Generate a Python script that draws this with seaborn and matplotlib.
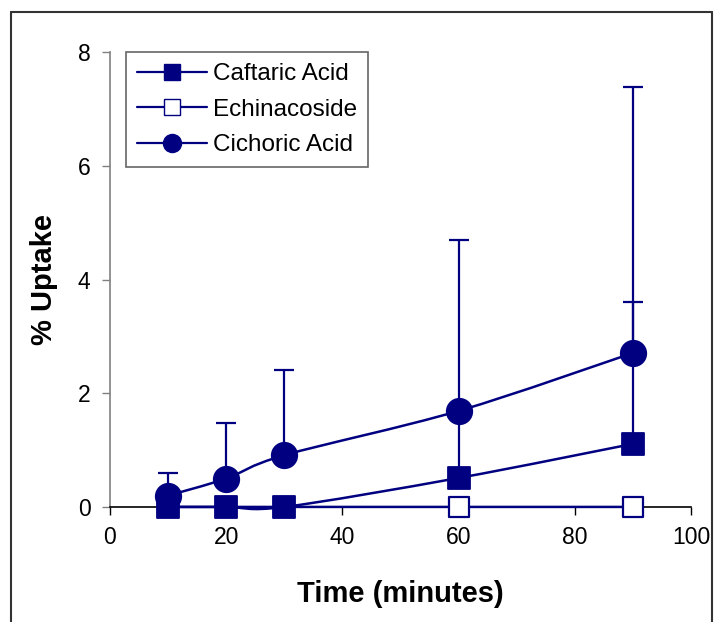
import numpy as np
import pandas as pd
import seaborn as sns
import matplotlib.pyplot as plt
from matplotlib.path import Path
from matplotlib.patches import PathPatch
from matplotlib.lines import Line2D

# Data
time_min = [10, 20, 30, 60, 90]
caftaric = [0.0, 0.0, 0.0, 0.51, 1.11]
caftaric_err = [0.0, 0.0, 0.0, 1.15, 2.5]
echinacoside = [0.0, 0.0, 0.0, 0.0, 0.0]
echinacoside_err = [0.0, 0.0, 0.0, 0.0, 0.0]
cichoric = [0.2, 0.5, 0.91, 1.69, 2.71]
cichoric_err = [0.4, 0.98, 1.5, 3.0, 4.67]

series_names = ["Caftaric Acid", "Echinacoside", "Cichoric Acid"]
navy = "#000080"

df = pd.DataFrame({
    "time": time_min * 3,
    "uptake": caftaric + echinacoside + cichoric,
    "err": caftaric_err + echinacoside_err + cichoric_err,
    "series": sum([[n] * len(time_min) for n in series_names], []),
})

sns.set_style("white")
plt.rcParams["font.family"] = ["Liberation Sans", "DejaVu Sans"]
plt.rcParams["text.color"] = "black"
plt.rcParams["axes.labelcolor"] = "black"

fig = plt.figure(figsize=(7.14, 6.22), dpi=100)
ax = fig.add_axes([0.154, 0.185, 0.814, 0.731])


def smooth_path(xs, ys):
    # Excel-style smoothed line: cubic bezier through the points
    pts = np.column_stack([xs, ys]).astype(float)
    verts = [pts[0]]
    codes = [Path.MOVETO]
    n = len(pts)
    for i in range(n - 1):
        p_prev = pts[i - 1] if i > 0 else pts[i]
        p_next = pts[i + 2] if i + 2 < n else pts[i + 1]
        c1 = pts[i] + (pts[i + 1] - p_prev) / 6
        c2 = pts[i + 1] - (p_next - pts[i]) / 6
        verts += [c1, c2, pts[i + 1]]
        codes += [Path.CURVE4] * 3
    return Path(verts, codes)


# error bars (upper only)
for name in series_names:
    d = df[df.series == name]
    if d.err.sum() > 0:
        eb = ax.errorbar(d.time, d.uptake, yerr=[np.zeros(len(d)), d.err],
                         fmt="none", ecolor=navy, elinewidth=1.6, capsize=7,
                         capthick=1.6, zorder=2)
        for art in eb.lines[1] + eb.lines[2]:
            art.set_clip_on(False)

# smoothed lines
for name in series_names:
    d = df[df.series == name]
    ax.add_patch(PathPatch(smooth_path(d.time, d.uptake), fill=False,
                           edgecolor=navy, lw=1.8, zorder=3, clip_on=False))

# markers
sns.scatterplot(data=df[df.series == "Echinacoside"], x="time", y="uptake",
                marker="s", s=200, facecolor="white", edgecolor=navy,
                linewidth=1.6, ax=ax, zorder=4, legend=False, clip_on=False)
sns.scatterplot(data=df[df.series == "Caftaric Acid"], x="time", y="uptake",
                marker="s", s=260, color=navy, edgecolor=navy,
                ax=ax, zorder=5, legend=False, clip_on=False)
sns.scatterplot(data=df[df.series == "Cichoric Acid"], x="time", y="uptake",
                marker="o", s=330, color=navy, edgecolor=navy,
                ax=ax, zorder=6, legend=False, clip_on=False)

ax.set_xlim(0, 100)
ax.set_ylim(0, 8)
ax.set_xticks(range(0, 101, 20))
ax.set_yticks(range(0, 9, 2))
ax.tick_params(axis="both", labelsize=16.5, direction="out", length=6,
               width=1, colors="black", left=True, bottom=True, pad=8)
ax.tick_params(axis="y", color="#808080")
for s in ["top", "right"]:
    ax.spines[s].set_visible(False)
ax.spines["left"].set_color("#808080")
ax.spines["bottom"].set_color("black")
ax.spines["left"].set_linewidth(1.2)
ax.spines["bottom"].set_linewidth(1.2)
ax.set_xlabel("Time (minutes)", fontsize=21, fontweight="bold", labelpad=22)
ax.set_ylabel("% Uptake", fontsize=21, fontweight="bold", labelpad=14)

handles = [
    Line2D([], [], color=navy, lw=1.6, marker="s", ms=12, mfc=navy, mec=navy),
    Line2D([], [], color=navy, lw=1.6, marker="s", ms=11, mfc="white", mec=navy),
    Line2D([], [], color=navy, lw=1.6, marker="o", ms=13, mfc=navy, mec=navy),
]
leg = ax.legend(handles, series_names, loc="upper left",
                bbox_to_anchor=(0.027, 1.0), borderaxespad=0,
                fontsize=17.5, frameon=True,
                fancybox=False, edgecolor="#404040", handlelength=2.9,
                handletextpad=0.25, borderpad=0.45, labelspacing=0.56)
leg.get_frame().set_linewidth(1.2)

# outer border of the chart area
for xy in [([11 / 714, 11 / 714], [0, 1 - 12 / 622]),
           ([11 / 714, 712 / 714], [1 - 12 / 622, 1 - 12 / 622]),
           ([712 / 714, 712 / 714], [0, 1 - 12 / 622])]:
    fig.add_artist(Line2D(xy[0], xy[1], color="#333333", lw=1.5,
                          transform=fig.transFigure))

fig.savefig("out.png", dpi=100)
